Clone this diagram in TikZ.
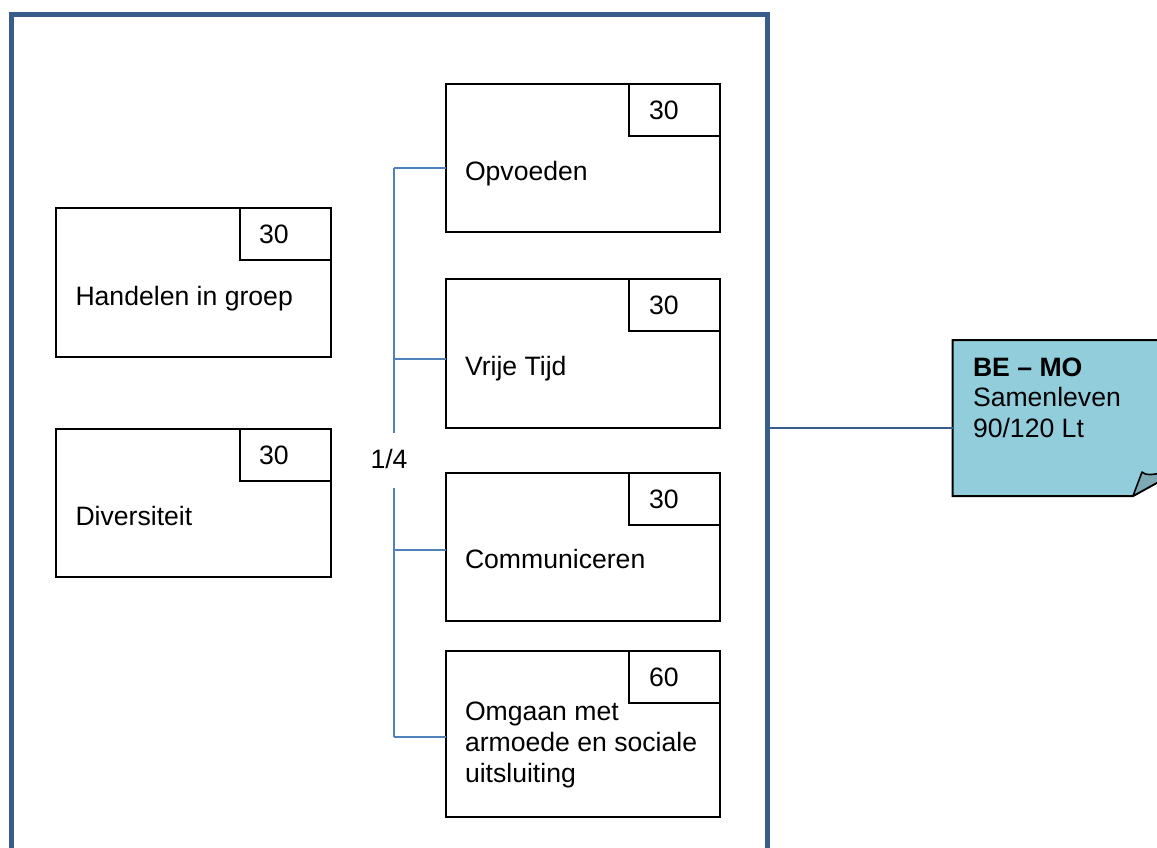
\documentclass[tikz,border=0pt]{standalone}
\usepackage{fontspec}
\setmainfont{Liberation Sans}
\definecolor{framecol}{HTML}{385D8A}
\definecolor{brackcol}{HTML}{4F81BD}
\definecolor{notefill}{HTML}{92CDDC}
\definecolor{flapfill}{HTML}{7DA9B5}
\begin{document}
\begin{tikzpicture}[x=1pt,y=-1pt,
  every node/.style={inner sep=0pt,outer sep=0pt,font=\fontsize{26.6}{30.6}\selectfont},
  modbox/.style={draw=black,line width=2pt,rectangle,anchor=north west,minimum width=274.5pt},
  numbox/.style={draw=black,line width=2pt,rectangle,anchor=north east,minimum width=91pt,minimum height=52pt},
  lbl/.style={anchor=base west,align=left},
  brack/.style={draw=brackcol,line width=2pt},
  link/.style={draw=framecol,line width=2pt}]
\useasboundingbox (0,0) rectangle (1157,847);
% outer frame
\draw[framecol,line width=5pt] (11.5,852) -- (11.5,14.5) -- (767,14.5) -- (767,852);
% left boxes
\node[modbox,minimum height=148.5pt] (han) at (56,208) {};
\node[numbox] (hann) at (han.north east) {};
\node[lbl] (hant) at (75.5,305) {Handelen in groep};
\node[modbox,minimum height=148.5pt] (div) at (56,428.5) {};
\node[numbox] (divn) at (div.north east) {};
\node[lbl] (divt) at (75.5,525.5) {Diversiteit};
% right boxes
\node[modbox,minimum height=148.5pt] (opv) at (445.5,83.5) {};
\node[numbox] (opvn) at (opv.north east) {};
\node[lbl] (opvt) at (465,180.5) {Opvoeden};
\node[modbox,minimum height=149pt] (vri) at (445.5,278.5) {};
\node[numbox] (vrin) at (vri.north east) {};
\node[lbl] (vrit) at (465,375.5) {Vrije Tijd};
\node[modbox,minimum height=148.5pt] (com) at (445.5,472.5) {};
\node[numbox] (comn) at (com.north east) {};
\node[lbl] (comt) at (465,568.5) {Communiceren};
\node[modbox,minimum height=166.5pt] (omg) at (445.5,650.5) {};
\node[numbox] (omgn) at (omg.north east) {};
\node[lbl] (omgt) at (465,782) {Omgaan met\\armoede en sociale\\uitsluiting};
% numbers
\node[lbl] (n1) at (239+20,243.5) {30};
\node[lbl] (n2) at (239+20,464) {30};
\node[lbl] (n3) at (629+20,119.3) {30};
\node[lbl] (n4) at (629+20,314.3) {30};
\node[lbl] (n5) at (629+20,508.3) {30};
\node[lbl] (n6) at (629+20,686.3) {60};
% bracket
\coordinate (bt) at (394,168);
\coordinate (bm1) at (394,433);
\coordinate (bm2) at (394,488);
\coordinate (bb) at (394,736.5);
\node[lbl] (frac) at (370.5,468) {1/4};
\draw[brack] (bt) -- (bm1);
\draw[brack] (bm2) -- (bb);
\draw[brack] (bt) -- (bt -| opv.west);
\draw[brack] (394,359) -- (394,359 -| vri.west);
\draw[brack] (394,550) -- (394,550 -| com.west);
\draw[brack] (bb) -- (bb -| omg.west);
% note
\path[fill=notefill,draw=black,line width=2pt] (952.5,340) -- (1162,340) -- (1162,480) -- (1133,496) -- (952.5,496) -- cycle;
\path[fill=flapfill,draw=black,line width=1.6pt,line join=round] (1133,496) -- (1142,472) .. controls (1146,476) and (1152,474.5) .. (1162,473) -- (1162,480) -- cycle;
\coordinate (note) at (952.5,428);
\node[lbl] (notet) at (973,437.3) {\textbf{BE – MO}\\Samenleven\\90/120 Lt};
\coordinate (fr) at (769.5,428);
\draw[link] (fr) -- (note);
\end{tikzpicture}
\end{document}
